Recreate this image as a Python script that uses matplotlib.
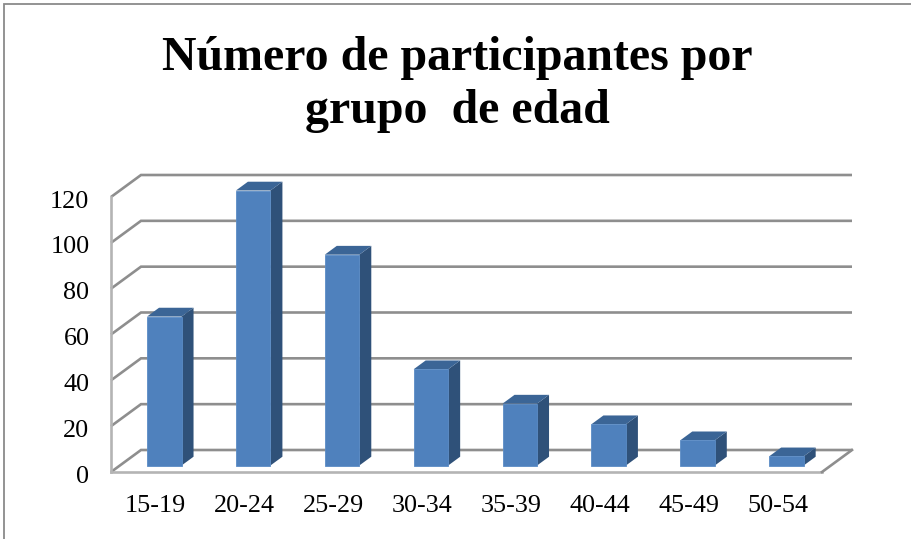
import numpy as np
import matplotlib
matplotlib.use("Agg")
import matplotlib.pyplot as plt
from matplotlib.lines import Line2D
from matplotlib.transforms import ScaledTranslation

categories = ["15-19", "20-24", "25-29", "30-34", "35-39", "40-44", "45-49", "50-54"]
participants = [65, 120, 92, 42, 27, 18, 11, 4]
y_ticks = [0, 20, 40, 60, 80, 100, 120]
title = "Número de participantes por\ngrupo  de edad"

W, H = 911, 539
plt.rcParams['font.family'] = ['Liberation Serif', 'DejaVu Serif']
fig = plt.figure(figsize=(W / 100, H / 100), dpi=100, facecolor="white")

L, R, B, T = 111, 822, 472, 197
ax = fig.add_axes([L / W, 1 - B / H, (R - L) / W, (B - T) / H])
ax.set_xlim(0, 8)
ax.set_ylim(0, 120)
for s in ax.spines.values():
    s.set_visible(False)
ax.patch.set_visible(False)

DX = 30 / 88.875      # full depth in category units
DY = 22 / (275 / 120)  # full depth in value units
GRID = "#8e8e8e"
FRONT = "#b4b4b4"

# wall and floor
for v in y_ticks:
    ax.plot([0, DX, 8 + DX], [v, v + DY, v + DY], color=GRID, lw=1.9, clip_on=False,
            solid_capstyle="butt", solid_joinstyle="miter", zorder=1)
ax.plot([0, 0], [0, 120], color=FRONT, lw=1.9, clip_on=False, zorder=1)
ax.plot([0, 8], [0, 0], color=FRONT, lw=1.9, clip_on=False, zorder=1.5)
ax.plot([8, 8 + DX], [0, DY], color=GRID, lw=1.9, clip_on=False, zorder=1.5)

# bars
x = np.arange(len(categories)) + 0.5
width = 34.5 / 88.875
front = 0.295
back = 0.695
xf = x + front * DX
base = front * DY
d_x = (back - front) * DX
d_y = (back - front) * DY
ax.bar(xf, participants, width=width, bottom=base, color="#4f81bd",
       edgecolor="#5b8cc6", linewidth=0.6, clip_on=False, zorder=3)
for xc, v in zip(xf, participants):
    x0, x1 = xc - width / 2, xc + width / 2
    top = base + v
    ax.fill([x1, x1 + d_x, x1 + d_x, x1], [base, base + d_y, top + d_y, top],
            color="#2f5179", lw=0, clip_on=False, zorder=2.9)
    ax.fill([x0, x0 + d_x, x1 + d_x, x1], [top, top + d_y, top + d_y, top],
            color="#3b6596", lw=0, clip_on=False, zorder=2.9)

# axis labels
ax.set_xticks(x, categories)
ax.set_yticks(y_ticks)
ax.tick_params(axis="both", length=0, labelsize=18.8, labelcolor="black")
ax.tick_params(axis="x", pad=16.5)
ax.tick_params(axis="y", pad=15.5)
shift = ScaledTranslation(0, -1.5 / 72, fig.dpi_scale_trans)
for lab in ax.get_yticklabels():
    lab.set_transform(lab.get_transform() + shift)

# title
fig.text(457 / W, 1 - 84.5 / H, title, ha="center", va="center", fontsize=34.5,
         fontweight="bold", color="black", linespacing=1.24)

# outer frame fragments
frame = "#8a8a8a"
fig.add_artist(Line2D([3.5 / W, 3.5 / W, 1], [0, 1 - 3.5 / H, 1 - 3.5 / H], color=frame, lw=1.3,
                      solid_joinstyle="miter"))

fig.savefig("out.png", dpi=100, facecolor="white")
